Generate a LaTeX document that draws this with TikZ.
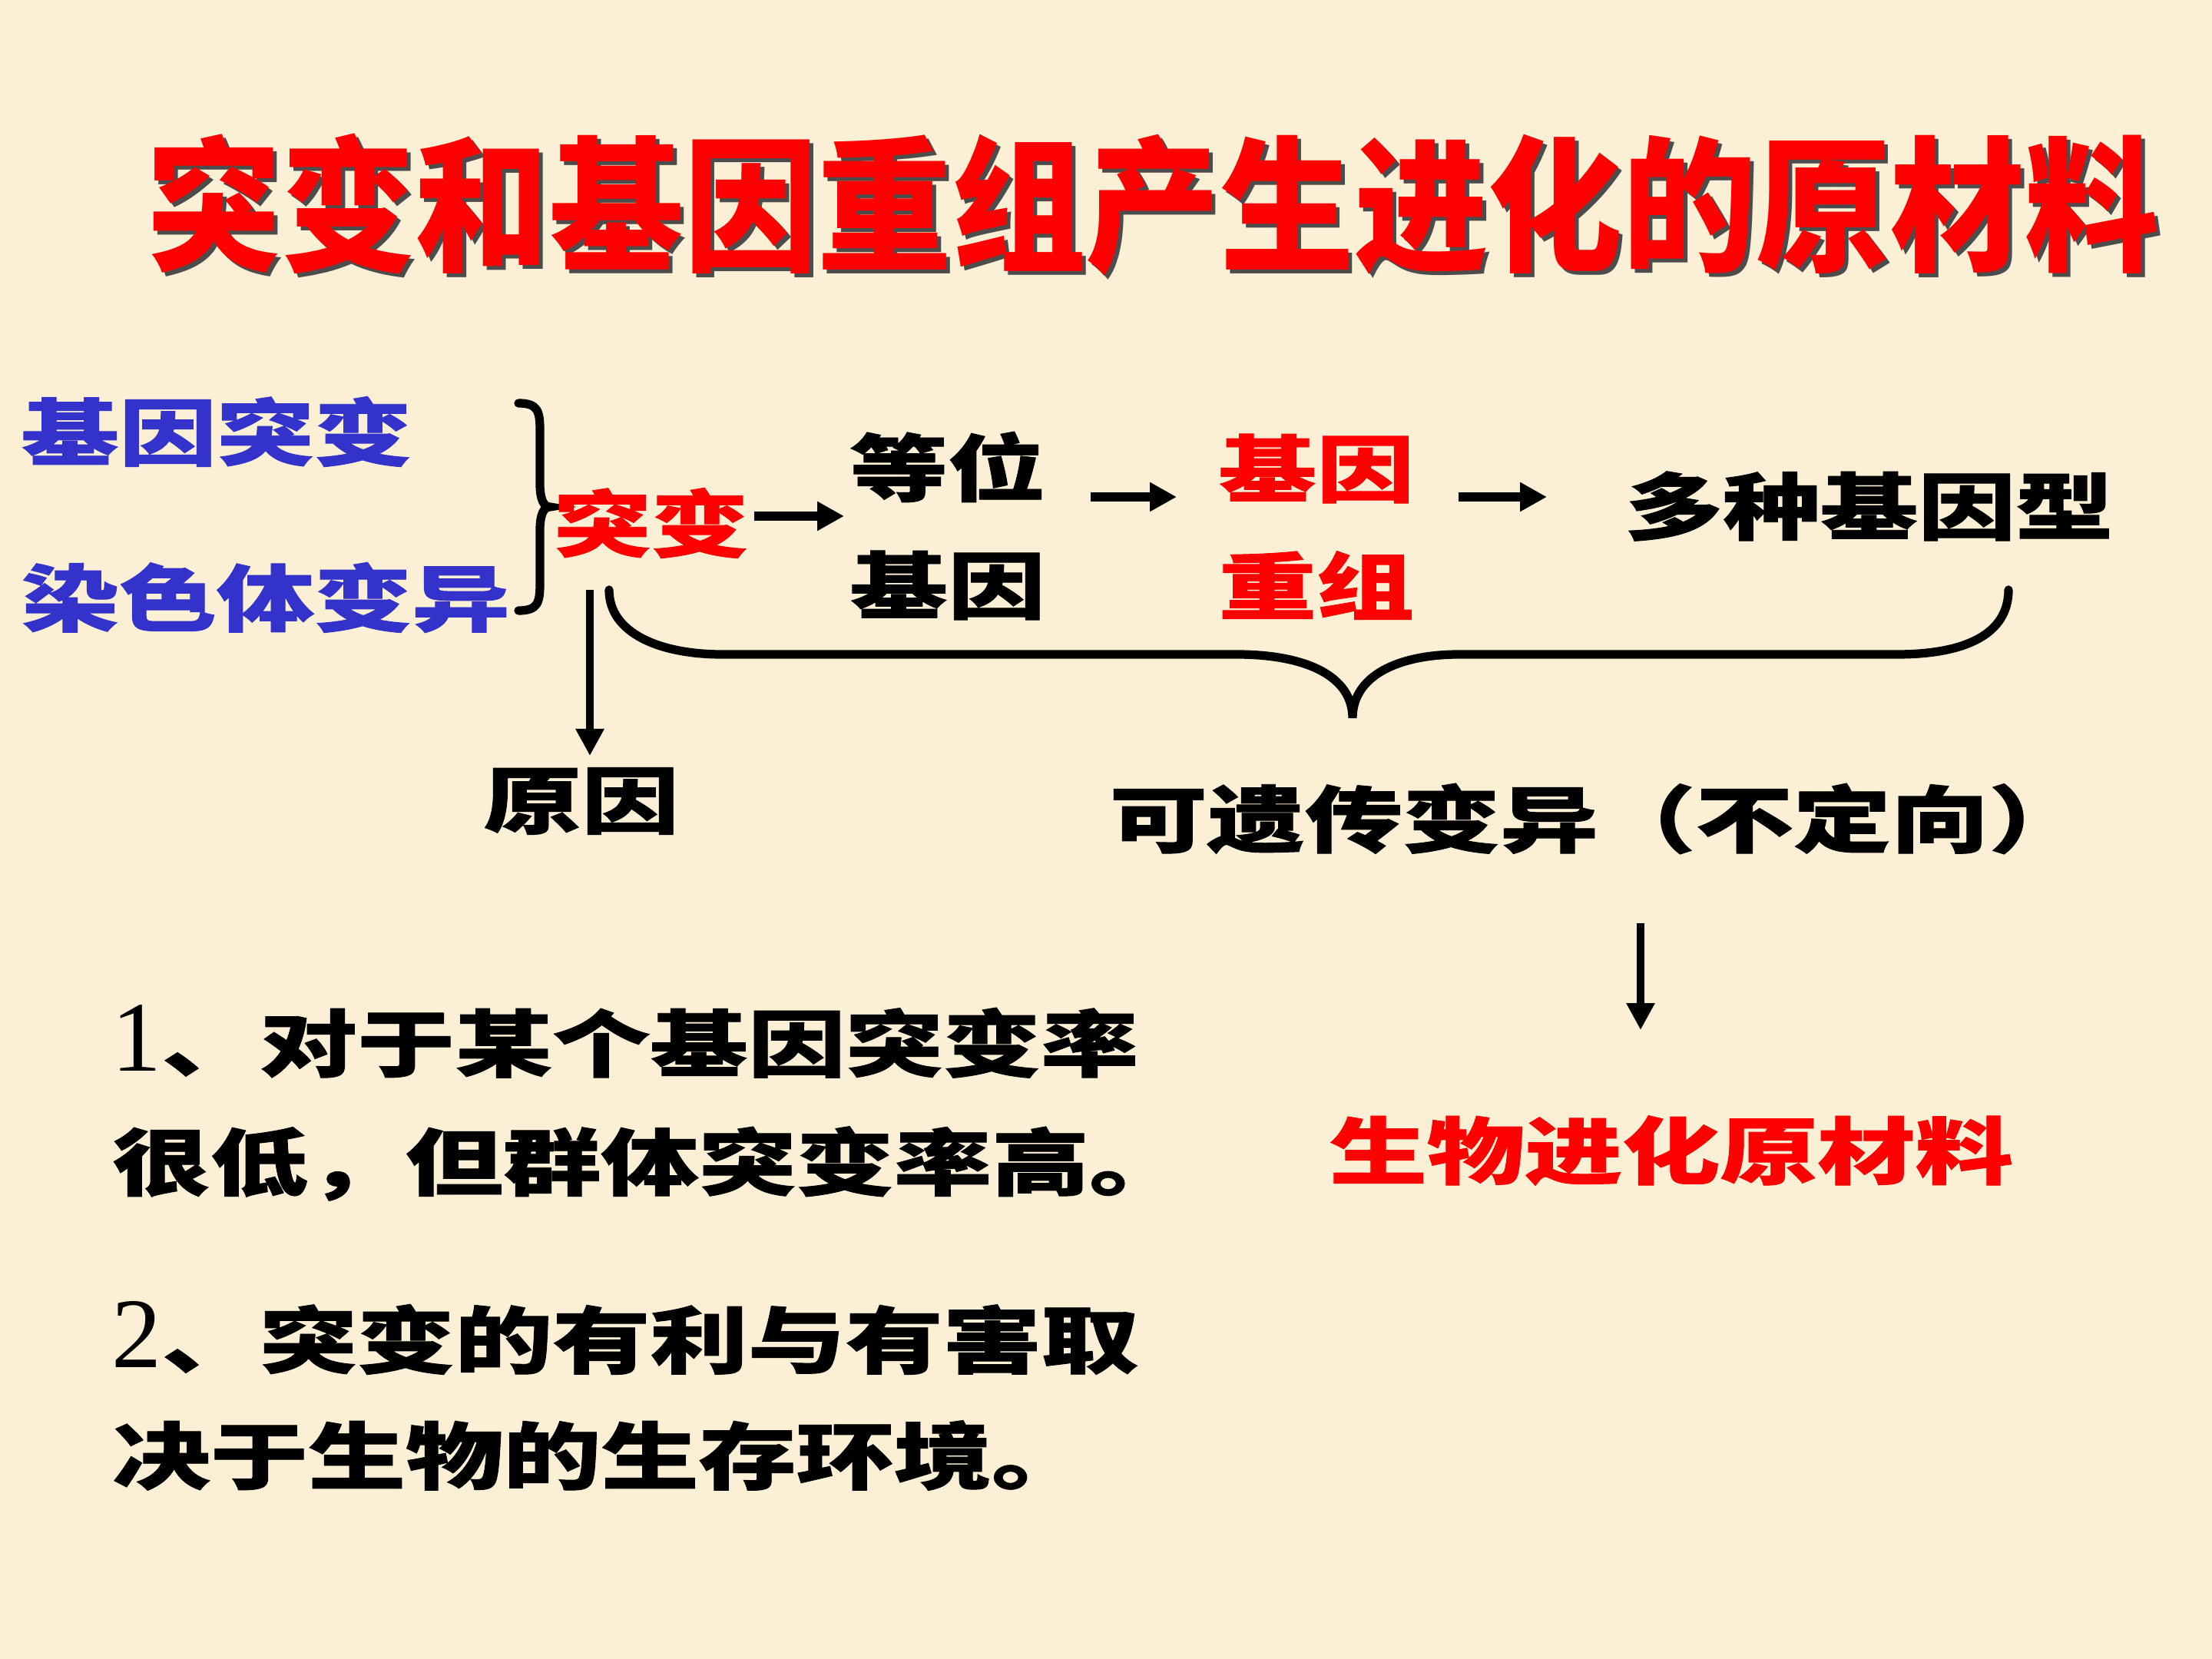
\documentclass[tikz,border=0pt]{standalone}
\usepackage{fontspec}
\usepackage{xcolor}
\usepackage{tikz}
\usetikzlibrary{arrows.meta}

\newfontfamily\hei{Noto Sans CJK SC}[FakeStretch=1.34, BoldFeatures={FakeBold=1}]
\newfontfamily\titlehei{Noto Sans CJK SC}[FakeStretch=0.92]
\newfontfamily\numfont{Liberation Serif}

\definecolor{paper}{RGB}{251,240,213}
\definecolor{jblue}{RGB}{51,51,204}
\definecolor{jred}{RGB}{255,0,0}

\begin{document}
\begin{tikzpicture}[
  every node/.style={inner sep=0pt, anchor=west},
  txt/.style={font=\hei\bfseries\fontsize{27}{32}\selectfont},
  ttl/.style={font=\titlehei\bfseries\fontsize{54}{58}\selectfont},
  harr/.style={-{Triangle[length=0.35cm,width=0.36cm]}, line width=3.6pt},
  varr/.style={-{Triangle[length=0.35cm,width=0.35cm]}, line width=3pt},
  bracestyle/.style={line width=3.2pt, line cap=round}]

% background
\fill[paper] (0,0) rectangle (28.8,-21.6);
\useasboundingbox (0,0) rectangle (28.8,-21.6);

% title with shadow
\node[ttl, text=black!70] (titleshadow) at (1.96,-2.72) {突变和基因重组产生进化的原材料};
\node[ttl, text=jred] (title) at (1.91,-2.67) {突变和基因重组产生进化的原材料};

% left part
\node[txt, text=jblue] (jbtb) at (0.27,-5.62) {基因突变};
\node[txt, text=jblue] (rstby) at (0.27,-7.78) {染色体变异};
\draw[bracestyle] (6.75,-5.25) .. controls (7.0,-5.25) and (7.03,-5.35) .. (7.03,-5.6)
  -- (7.03,-6.3) .. controls (7.03,-6.5) and (7.08,-6.6) .. (7.16,-6.6)
  .. controls (7.08,-6.6) and (7.03,-6.7) .. (7.03,-6.9)
  -- (7.03,-7.6) .. controls (7.03,-7.85) and (7.0,-7.95) .. (6.75,-7.95);

\node[txt, text=jred] (tb) at (7.20,-6.81) {突变};

% top row
\node[txt] (dw) at (11.06,-6.08) {等位};
\node[txt] (jy) at (11.06,-7.62) {基因};
\node[txt, text=jred] (jyred) at (15.86,-6.10) {基因};
\node[txt, text=jred] (cz) at (15.86,-7.62) {重组};
\node[txt] (dzjyx) at (21.15,-6.59) {多种基因型};

\coordinate (a2s) at (14.20,-6.47);
\coordinate (a2e) at (15.32,-6.47);
\coordinate (a3s) at (18.99,-6.47);
\coordinate (a3e) at (20.14,-6.47);

\draw[harr] ([xshift=0.06cm]tb.east |- 0,-6.72) -- ([xshift=-0.07cm]dw.west |- 0,-6.72);
\draw[harr] (a2s) -- (a2e);
\draw[harr] (a3s) -- (a3e);

% under brace
\coordinate (bl) at (7.93,-7.68);
\coordinate (bm) at (17.61,-9.35);
\coordinate (br) at (26.15,-7.68);
\draw[bracestyle] (bl) .. controls (7.93,-8.25) and (8.6,-8.52) .. (9.4,-8.52)
  -- (16.1,-8.52) .. controls (17.0,-8.52) and (17.61,-8.8) .. (bm)
  .. controls (17.61,-8.8) and (18.2,-8.52) .. (19.0,-8.52)
  -- (24.7,-8.52) .. controls (25.6,-8.52) and (br |- 0,-8.25) .. (br);

% cause
\node[txt] (yy) at (6.29,-10.43) {原因};
\coordinate (tbdown) at (7.68,-7.68);
\draw[varr] (tbdown) -- (tbdown |- 0,-9.84);

% heritable variation
\node[txt] (kyc) at (14.44,-10.66) {可遗传变异（不定向）};
\coordinate (d1) at (21.36,-12.02);
\coordinate (d2) at (21.36,-13.41);
\draw[varr] (d1) -- (d2);
\node[txt, text=jred] (swjh) at (17.30,-14.98) {生物进化原材料};

% notes
\node[txt] (note1a) at (1.45,-13.56) {{\numfont\mdseries\fontsize{37}{40}\selectfont 1}、对于某个基因突变率};
\node[txt] (note1b) at (1.46,-15.15) {很低，但群体突变率高。};
\node[txt] (note2a) at (1.45,-17.42) {{\numfont\mdseries\fontsize{37}{40}\selectfont 2}、突变的有利与有害取};
\node[txt] (note2b) at (1.46,-18.95) {决于生物的生存环境。};

\end{tikzpicture}
\end{document}
